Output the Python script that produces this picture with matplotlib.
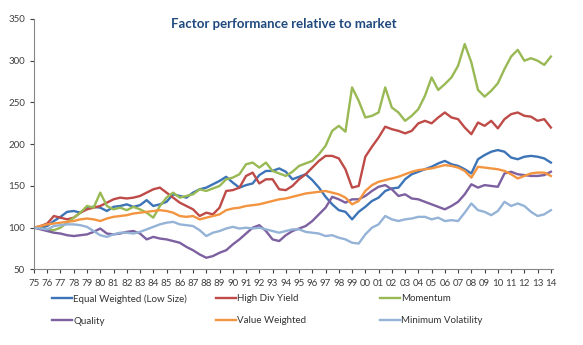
"""Factor performance relative to market, 1975-2014 (index, start = 100)."""

import matplotlib.pyplot as plt
import numpy as np

# half-yearly readings, 1975.0 .. 2014.0
years = np.arange(1975.0, 2014.01, 0.5)

equal_weighted = [
    100, 100, 102, 108, 113, 119, 120, 118, 124, 125,
    124, 120, 125, 126, 128, 125, 127, 133, 126, 128,
    131, 140, 138, 136, 142, 146, 148, 152, 156, 161,
    154, 148, 151, 153, 163, 168, 168, 171, 167, 158,
    161, 164, 157, 148, 137, 128, 121, 119, 110, 119,
    125, 132, 136, 144, 147, 148, 158, 164, 167, 170,
    173, 177, 180, 176, 174, 170, 165, 182, 187, 191,
    193, 191, 184, 182, 185, 186, 185, 183, 178,
]
high_div_yield = [
    100, 102, 105, 114, 112, 110, 112, 118, 122, 124,
    126, 130, 134, 136, 135, 136, 138, 142, 146, 148,
    142, 136, 130, 126, 122, 114, 118, 116, 124, 144,
    145, 148, 162, 166, 153, 158, 158, 146, 145, 150,
    158, 164, 172, 180, 186, 186, 183, 170, 148, 150,
    185, 197, 208, 221, 218, 216, 213, 216, 225, 228,
    225, 232, 238, 232, 230, 220, 212, 226, 222, 228,
    219, 230, 236, 238, 234, 233, 228, 230, 220,
]
momentum = [
    100, 99, 98, 97, 100, 106, 112, 118, 126, 124,
    142, 126, 122, 124, 121, 125, 122, 118, 112, 126,
    136, 142, 136, 138, 140, 146, 144, 147, 150, 158,
    160, 164, 176, 178, 172, 178, 168, 165, 162, 167,
    174, 177, 180, 188, 198, 216, 222, 215, 268, 252,
    232, 234, 238, 268, 244, 238, 228, 234, 242, 258,
    280, 265, 272, 280, 294, 320, 298, 265, 257, 264,
    273, 290, 305, 313, 300, 303, 300, 295, 305,
]
quality = [
    100, 98, 96, 94, 93, 91, 90, 91, 92, 95,
    99, 93, 92, 93, 95, 96, 93, 86, 89, 87,
    86, 84, 82, 77, 73, 68, 64, 66, 70, 73,
    80, 86, 93, 100, 103, 96, 86, 84, 91, 96,
    99, 102, 108, 116, 124, 137, 134, 130, 134, 134,
    138, 144, 149, 151, 146, 138, 140, 135, 134, 131,
    128, 125, 122, 126, 131, 140, 152, 148, 151, 150,
    149, 165, 167, 164, 163, 162, 162, 163, 167,
]
value_weighted = [
    100, 102, 104, 105, 106, 107, 108, 110, 111, 110,
    108, 111, 113, 114, 115, 117, 118, 119, 120, 121,
    120, 118, 114, 113, 114, 110, 112, 114, 116, 121,
    123, 124, 126, 127, 128, 130, 132, 134, 135, 137,
    139, 141, 142, 143, 144, 142, 140, 136, 128, 132,
    144, 151, 155, 157, 159, 161, 164, 167, 169, 170,
    171, 173, 175, 174, 172, 168, 160, 173, 172, 171,
    170, 168, 164, 159, 162, 165, 166, 166, 162,
]
min_volatility = [
    100, 99, 98, 102, 103, 104, 104, 103, 101, 96,
    91, 89, 92, 94, 94, 93, 95, 98, 101, 104,
    106, 107, 104, 103, 102, 97, 90, 94, 96, 99,
    101, 99, 100, 99, 100, 98, 96, 94, 96, 98,
    98, 95, 94, 93, 90, 91, 88, 86, 82, 81,
    92, 100, 104, 114, 110, 108, 110, 111, 113, 113,
    110, 112, 108, 109, 108, 118, 129, 121, 119, 115,
    120, 131, 126, 129, 126, 119, 114, 116, 121,
]

series = [
    ("Equal Weighted (Low Size)", equal_weighted, "#3D74B7"),
    ("High Div Yield", high_div_yield, "#BE4B48"),
    ("Momentum", momentum, "#98B954"),
    ("Quality", quality, "#7D60A0"),
    ("Value Weighted", value_weighted, "#F39540"),
    ("Minimum Volatility", min_volatility, "#95B3D7"),
]

tick_years = np.arange(1975, 2015)
tick_labels = [f"{y % 100:02d}" for y in tick_years]

plt.rcParams["font.family"] = ["Lato", "DejaVu Sans"]

fig = plt.figure(figsize=(5.83, 3.45), dpi=100)
ax = fig.add_axes([0.0583, 0.219, 0.89, 0.726])

lines = []
for name, values, color in series:
    (ln,) = ax.plot(years, values, color=color, lw=1.7, label=name)
    lines.append(ln)

ax.set_xlim(1975, 2014.15)
ax.set_ylim(50, 350)
ax.set_yticks(np.arange(50, 351, 50))
ax.set_xticks(tick_years)
ax.set_xticklabels(tick_labels)
ax.tick_params(axis="both", labelsize=7, colors="#404040", length=3,
               width=0.8, direction="out")
ax.tick_params(axis="x", pad=4)
for side in ("top", "right"):
    ax.spines[side].set_visible(False)
for side in ("left", "bottom"):
    ax.spines[side].set_color("#868686")
    ax.spines[side].set_linewidth(0.8)

fig.text(0.486, 0.930, "Factor performance relative to market",
         ha="center", va="center", fontsize=9.5, fontweight="bold",
         color="#1F497D")

# three legend columns, two entries each
col_x = [52 / 583, 216 / 583, 380 / 583]
for i, x in enumerate(col_x):
    fig.legend(handles=[lines[i], lines[i + 3]], loc="upper left",
               bbox_to_anchor=(x, 1 - 294 / 345), frameon=False,
               fontsize=7, handlelength=2.1, handletextpad=0.1,
               labelspacing=1.35, borderpad=0, borderaxespad=0,
               labelcolor="#333333")

fig.savefig("out.png", dpi=100)
